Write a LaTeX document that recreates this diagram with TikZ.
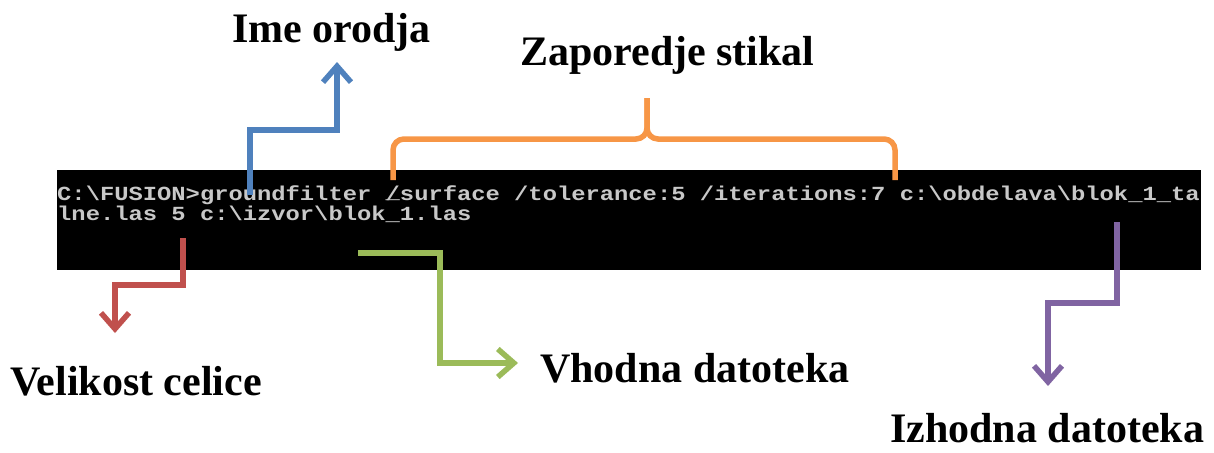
\documentclass[tikz,border=0pt]{standalone}
\usepackage{fontspec}
\setmainfont{Liberation Serif}
\newfontfamily\termfont[FakeStretch=1.19]{Liberation Mono}
\usetikzlibrary{arrows.meta}
\definecolor{cblue}{HTML}{4F81BD}
\definecolor{corange}{HTML}{F79646}
\definecolor{cred}{HTML}{C0504D}
\definecolor{cgreen}{HTML}{9BBB59}
\definecolor{cpurple}{HTML}{8064A2}
\definecolor{termgray}{HTML}{C8C8C8}
\tikzset{
  conn/.style={line width=5.5pt, line join=miter, -{Straight Barb[length=16pt,width=28pt]}},
  brace/.style={line width=5.5pt, corange, rounded corners=11pt},
  lbl/.style={font=\fontsize{42}{50}\selectfont\bfseries, inner sep=0pt, anchor=base west},
  cmd/.style={font=\fontsize{20}{16}\selectfont\termfont\bfseries, text=termgray, inner sep=0pt, anchor=base west, align=left},
  screen/.style={fill=black, inner sep=0pt, anchor=north west, minimum width=1144pt, minimum height=100pt},
}
\begin{document}
\begin{tikzpicture}[x=1pt,y=-1pt]
\useasboundingbox (0,0) rectangle (1214,452);
% terminal
\node[screen] (term) at (57,170) {};
\node[cmd] (cmd) at (57,220) {C:\textbackslash FUSION>groundfilter \rlap{\raisebox{2pt}{\_}}/surface /tolerance:5 /iterations:7 c:\textbackslash obdelava\textbackslash blok\_1\_ta\\lne.las 5 c:\textbackslash izvor\textbackslash blok\_1.las};
% labels
\node[lbl] (ime) at (232,43) {Ime orodja};
\node[lbl] (zap) at (520,65) {Zaporedje stikal};
\node[lbl] (vel) at (10,395) {Velikost celice};
\node[lbl] (vho) at (540,382) {Vhodna datoteka};
\node[lbl] (izh) at (890,442) {Izhodna datoteka};
% connector points
\coordinate (bS) at (250,195);
\coordinate (bC) at (337,130);
\coordinate (bE) at (337,62);
\coordinate (rS) at (183,238);
\coordinate (rC) at (115,285);
\coordinate (rE) at (115,333);
\coordinate (gS) at (358,253);
\coordinate (gC) at (440,363);
\coordinate (gE) at (518,363);
\coordinate (pS) at (1117,222);
\coordinate (pC) at (1048,303);
\coordinate (pE) at (1048,386);
\coordinate (oL) at (393,180);
\coordinate (oR) at (895,180);
\coordinate (oM) at (647,139);
\coordinate (oT) at (647,98);
% connectors
\draw[conn, cblue] (bS) |- (bC) -- (bE);
\draw[conn, cred] (rS) |- (rC) -- (rE);
\draw[conn, cgreen] (gS) -| (gC) -- (gE);
\draw[conn, cpurple] (pS) |- (pC) -- (pE);
% brace
\draw[brace] (oL) |- (oM) -- (oT);
\draw[brace] (oR) |- (oM) -- (oT);
\end{tikzpicture}
\end{document}
